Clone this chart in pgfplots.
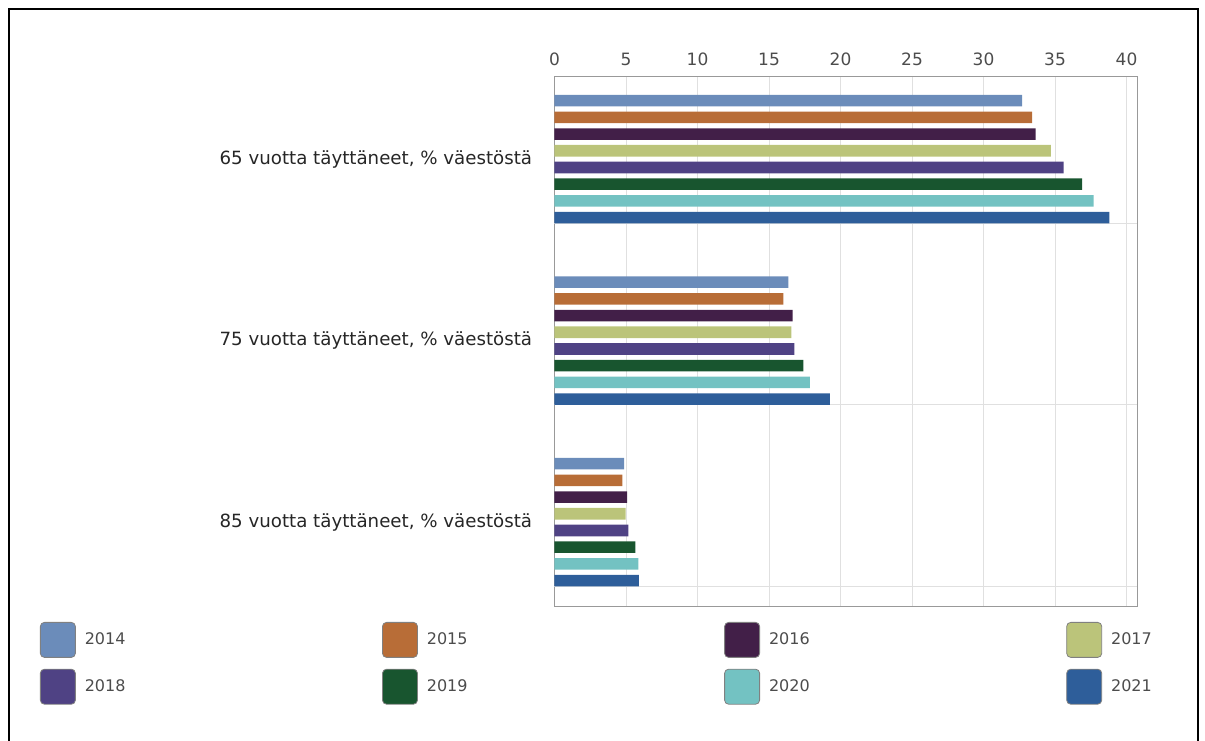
\documentclass[border=0pt]{standalone}
\usepackage{pgfplots}
\pgfplotsset{compat=1.18}
\usepackage{fontspec}
\setmainfont{DejaVu Sans}
\definecolor{c14}{HTML}{6B8CBA}
\definecolor{c15}{HTML}{B86D37}
\definecolor{c16}{HTML}{421F48}
\definecolor{c17}{HTML}{BBC47A}
\definecolor{c18}{HTML}{4F4284}
\definecolor{c19}{HTML}{18552F}
\definecolor{c20}{HTML}{73C2C2}
\definecolor{c21}{HTML}{2E5E9A}
\begin{document}
\begin{tikzpicture}
\useasboundingbox (0,0) rectangle (602.5pt,-370pt);
\draw[line width=1.1pt] (4.5pt,-390pt) -- (4.5pt,-4.5pt) -- (599pt,-4.5pt) -- (599pt,-390pt);
\begin{axis}[
  at={(277.25pt,-38pt)}, anchor=north west,
  scale only axis, width=291.25pt, height=265.35pt,
  xmin=0, xmax=40.73, ymin=-0.458, ymax=2.466, y dir=reverse,
  xbar, bar width=5.8pt,
  xtick={0,5,...,40}, xticklabel pos=upper,
  xmajorgrids, major grid style={color=black!12},
  ytick={0,1,2},
  yticklabels={{65 vuotta täyttäneet, \% väestöstä},{75 vuotta täyttäneet, \% väestöstä},{85 vuotta täyttäneet, \% väestöstä}},
  extra y ticks={0.352,1.352,2.352}, extra y tick labels={},
  extra y tick style={grid=major},
  major tick length=0pt,
  axis line style={black!40},
  tick label style={font=\fontsize{8.5}{10}\selectfont},
  xticklabel style={text=black!70, inner sep=0pt, yshift=5pt},
  yticklabel style={text=black!85, inner sep=0pt, xshift=-11pt, font=\fontsize{9.1}{11}\selectfont},
  /pgf/number format/assume math mode=true,
  legend columns=4,
  legend style={at={(-0.8833,-0.0288)}, anchor=north west, draw=none, fill=none,
    inner sep=0pt, outer sep=0pt, row sep=5.5pt, column sep=2.5pt,
    font=\fontsize{8}{10}\selectfont, text=black!70,
    cells={anchor=west},
    /tikz/every even column/.append style={column sep=126.3pt}},
  legend image code/.code={\draw[#1,draw=black!50,rounded corners=2pt] (0pt,-8.75pt) rectangle (17.5pt,8.75pt);},
]
\addplot[fill=c14, draw=none, bar shift=29.225pt] coordinates {(32.7,0) (16.35,1) (4.86,2)};
\addplot[fill=c15, draw=none, bar shift=20.875pt] coordinates {(33.4,0) (16.0,1) (4.74,2)};
\addplot[fill=c16, draw=none, bar shift=12.525pt] coordinates {(33.65,0) (16.65,1) (5.07,2)};
\addplot[fill=c17, draw=none, bar shift=4.175pt] coordinates {(34.7,0) (16.56,1) (4.98,2)};
\addplot[fill=c18, draw=none, bar shift=-4.175pt] coordinates {(35.6,0) (16.77,1) (5.16,2)};
\addplot[fill=c19, draw=none, bar shift=-12.525pt] coordinates {(36.9,0) (17.4,1) (5.65,2)};
\addplot[fill=c20, draw=none, bar shift=-20.875pt] coordinates {(37.7,0) (17.85,1) (5.86,2)};
\addplot[fill=c21, draw=none, bar shift=-29.225pt] coordinates {(38.8,0) (19.25,1) (5.9,2)};
\legend{2014,2015,2016,2017,2018,2019,2020,2021}
\end{axis}
\end{tikzpicture}
\end{document}
